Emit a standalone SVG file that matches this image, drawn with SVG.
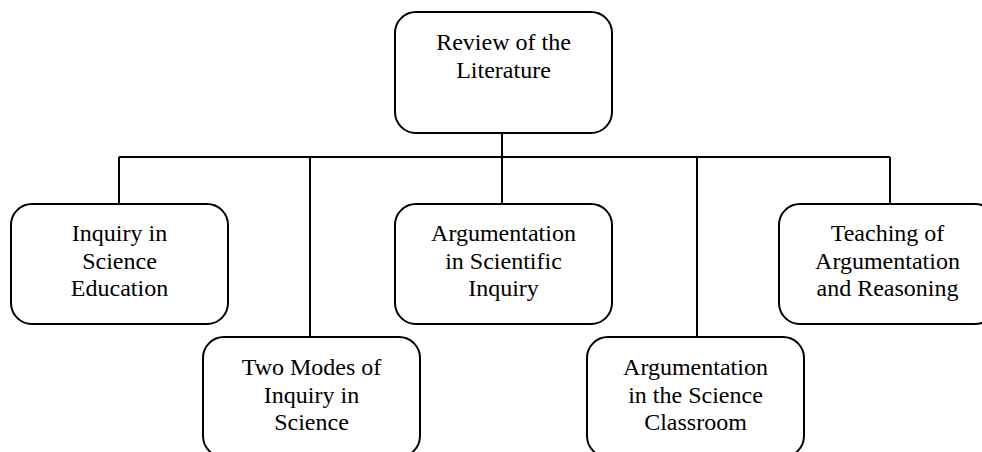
<svg xmlns="http://www.w3.org/2000/svg" width="982" height="452" viewBox="0 0 982 452">
<style>
.box{fill:#fff;stroke:#000;stroke-width:2}
.ln{fill:none;stroke:#000;stroke-width:2}
text{font-family:"Liberation Serif","Times New Roman",serif;font-size:24px;fill:#000;text-anchor:middle}
</style>
<rect width="982" height="452" fill="#fff"/>
<g id="connectors">
<path class="ln" d="M502 133 V204"/>
<path class="ln" d="M119 157 H890"/>
<path class="ln" d="M119 157 V204"/>
<path class="ln" d="M310 157 V337"/>
<path class="ln" d="M697 157 V337"/>
<path class="ln" d="M890 157 V204"/>
</g>
<g id="review">
<rect class="box" x="395" y="12" width="217" height="121" rx="21"/>
<text x="503.5" y="50">Review of the</text>
<text x="503.5" y="78">Literature</text>
</g>
<g id="inquiry-education">
<rect class="box" x="11" y="204" width="217" height="120" rx="21"/>
<text x="119.5" y="241">Inquiry in</text>
<text x="119.5" y="268.5">Science</text>
<text x="119.5" y="296">Education</text>
</g>
<g id="two-modes">
<rect class="box" x="203" y="337" width="217" height="120" rx="21"/>
<text x="311.5" y="375">Two Modes of</text>
<text x="311.5" y="402.5">Inquiry in</text>
<text x="311.5" y="430">Science</text>
</g>
<g id="arg-inquiry">
<rect class="box" x="395" y="204" width="217" height="120" rx="21"/>
<text x="503.5" y="241">Argumentation</text>
<text x="503.5" y="268.5">in Scientific</text>
<text x="503.5" y="296">Inquiry</text>
</g>
<g id="arg-classroom">
<rect class="box" x="587" y="337" width="217" height="120" rx="21"/>
<text x="695.5" y="375">Argumentation</text>
<text x="695.5" y="402.5">in the Science</text>
<text x="695.5" y="430">Classroom</text>
</g>
<g id="teaching">
<rect class="box" x="779" y="204" width="217" height="120" rx="21"/>
<text x="887.5" y="241">Teaching of</text>
<text x="887.5" y="268.5">Argumentation</text>
<text x="887.5" y="296">and Reasoning</text>
</g>
</svg>
